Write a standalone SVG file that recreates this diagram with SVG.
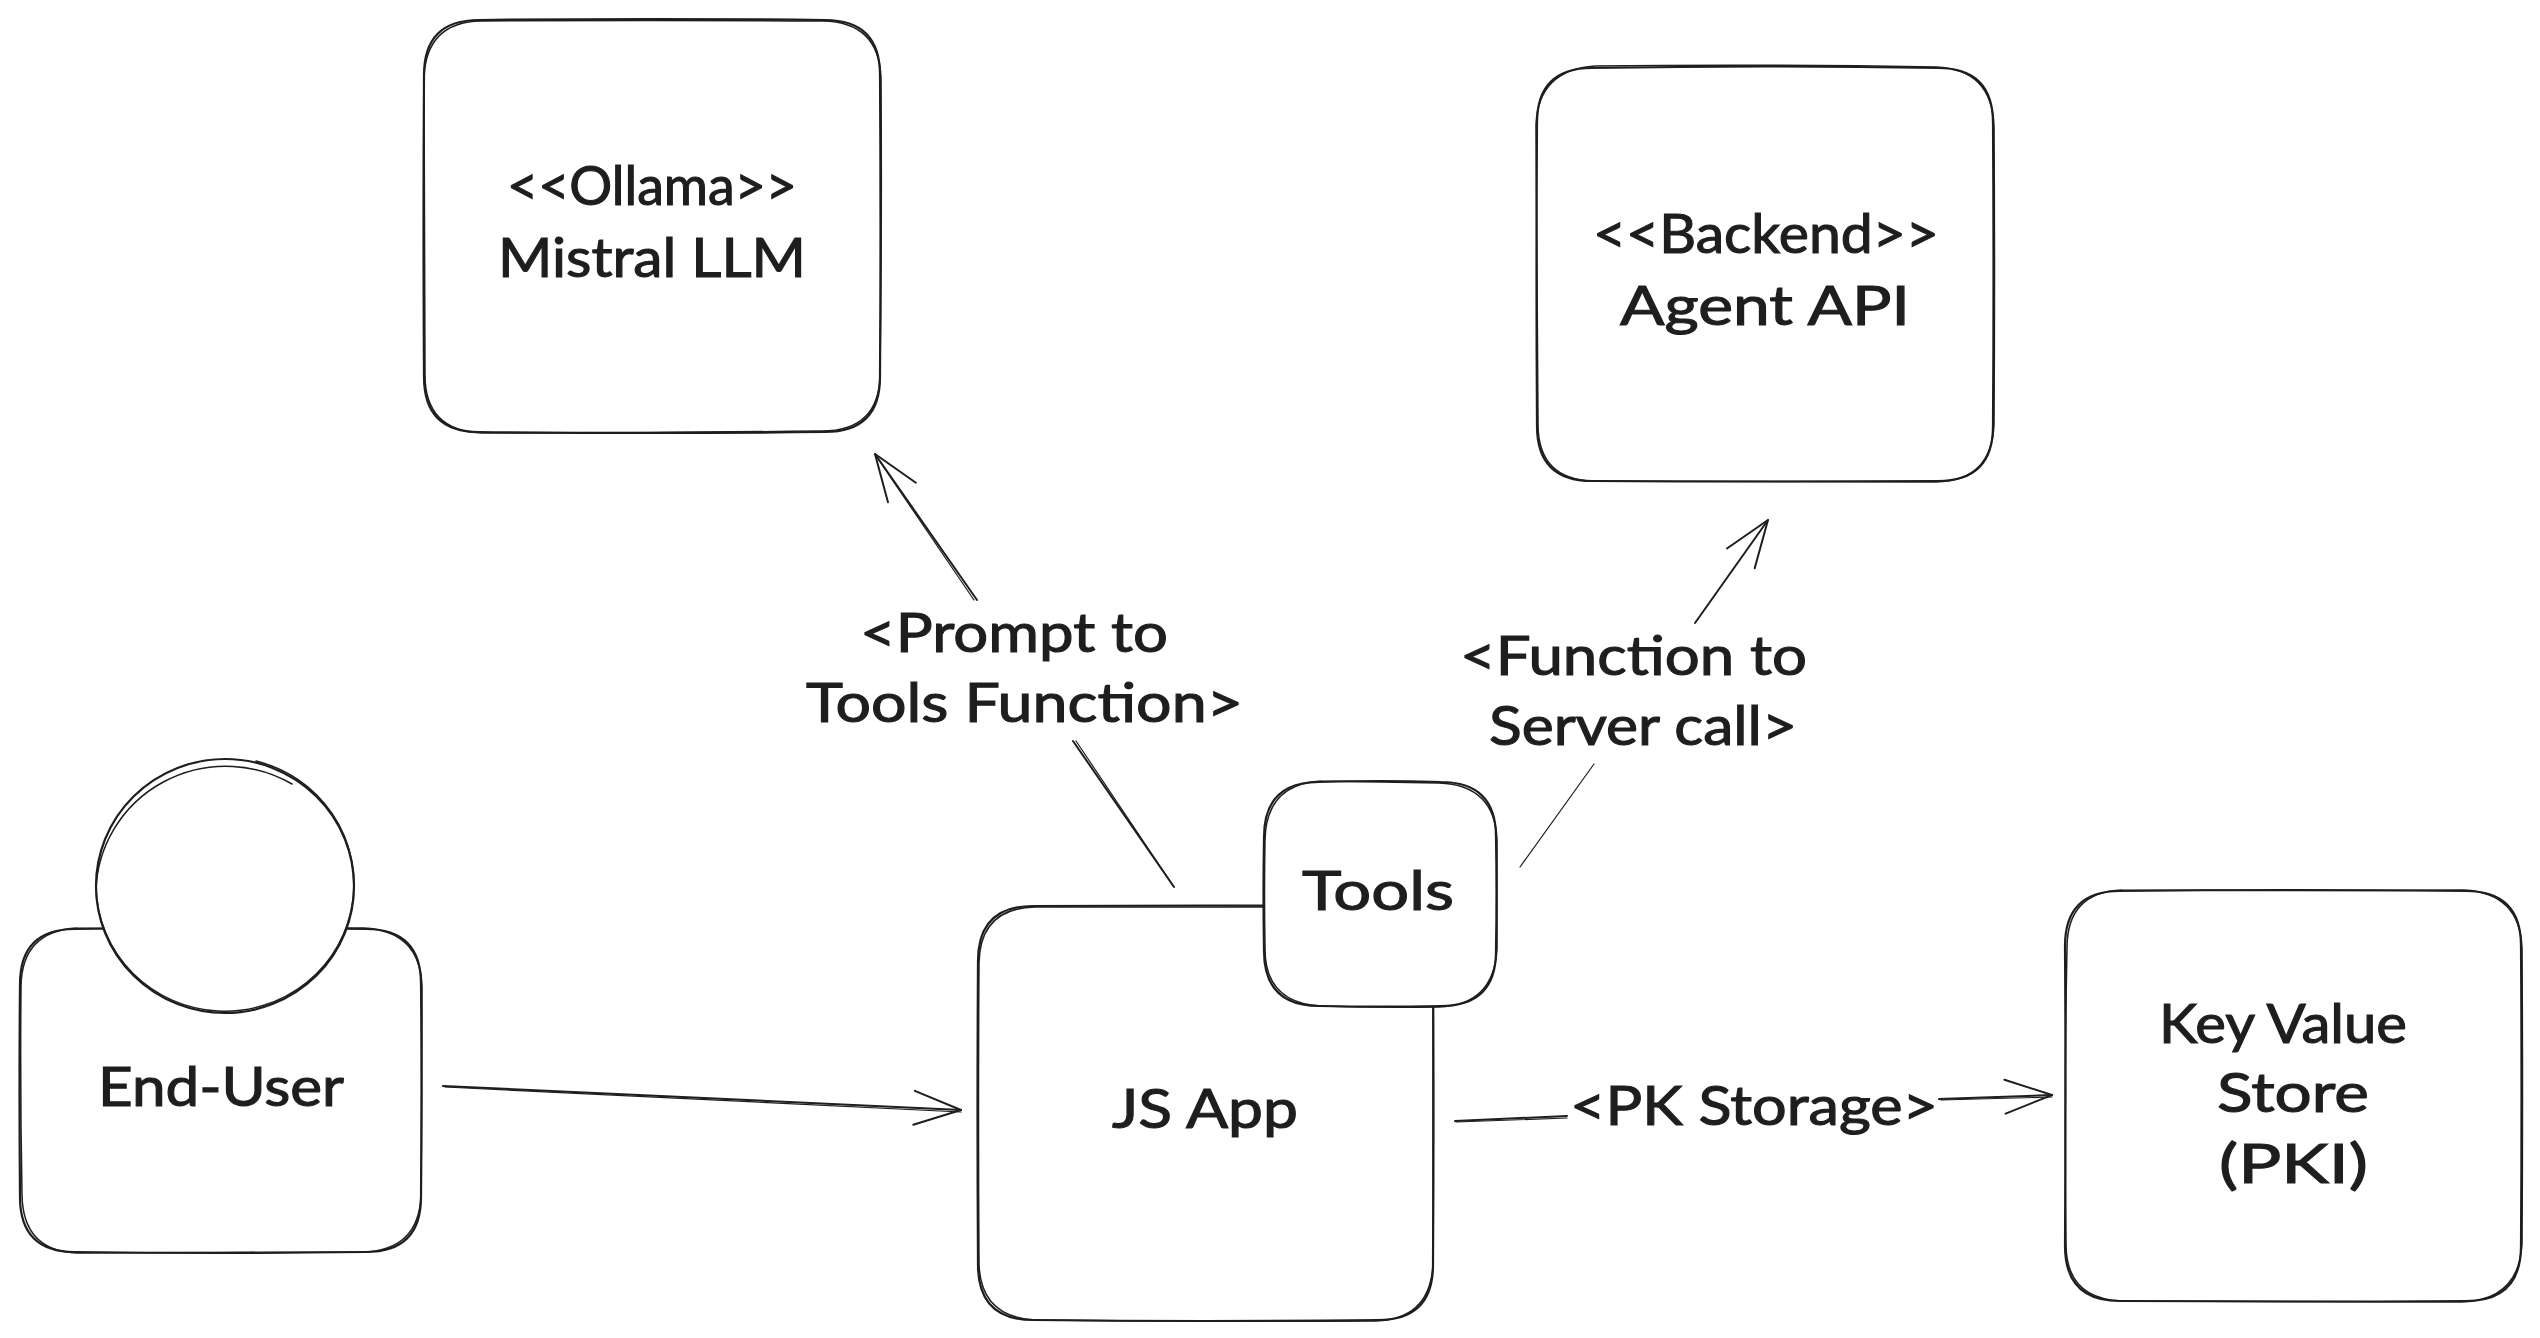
<svg xmlns="http://www.w3.org/2000/svg" width="2540" height="1338" viewBox="0 0 2540 1338">
<style>
.bg{fill:#ffffff}
.s1{fill:#ffffff;stroke:#1e1e1e;stroke-width:2.2;stroke-linecap:round;stroke-linejoin:round}
.s2{fill:none;stroke:#1e1e1e;stroke-width:1.5;stroke-linecap:round;stroke-linejoin:round}
.c1{fill:none;stroke:#1e1e1e;stroke-width:2;stroke-linecap:round}
.c2{fill:none;stroke:#1e1e1e;stroke-width:1.2;stroke-linecap:round}
.t{font-family:"Lato","Noto Sans",sans-serif;font-size:54px;fill:#1e1e1e;stroke:#1e1e1e;stroke-width:1.1px}
</style>
<defs>
<marker id="arrow" markerUnits="userSpaceOnUse" markerWidth="60" markerHeight="44" refX="50" refY="20" orient="auto" overflow="visible">
<path d="M3 3L50 20L3 37" fill="none" stroke="#1e1e1e" stroke-width="2" stroke-linecap="round" stroke-linejoin="round"/>
</marker>
</defs>
<rect class="bg" width="2540" height="1338"/>

<g id="node-ollama">
<path class="s1" d="M479 20Q652 18 825 20Q880 20 880 75Q881 226 880 377Q880 432 825 432Q652 434 479 432Q424 432 424 377Q423 226 424 75Q424 20 479 20Z"/>
<path class="s2" d="M481 21Q650 20 823 21Q879 22 881 78Q882 230 880 375Q879 431 822 431Q650 433 482 433Q425 431 425 375Q425 220 424 78Q426 22 481 21"/>
<text class="t" x="507" y="205" textLength="290" lengthAdjust="spacingAndGlyphs">&lt;&lt;Ollama&gt;&gt;</text>
<text class="t" x="498" y="277" textLength="308" lengthAdjust="spacingAndGlyphs">Mistral LLM</text>
</g>

<g id="node-backend">
<path class="s1" d="M1592 68Q1765 65 1938 68Q1993 68 1993 123Q1994 275 1993 426Q1993 481 1938 481Q1765 482 1592 481Q1537 481 1537 426Q1536 275 1537 123Q1537 68 1592 68Z"/>
<path class="s2" d="M1595 66Q1765 64 1936 67Q1992 69 1994 126Q1995 275 1994 424Q1992 481 1936 482Q1765 482 1594 481Q1538 480 1538 424Q1537 275 1536 125Q1538 70 1595 66"/>
<text class="t" x="1593" y="253" textLength="346" lengthAdjust="spacingAndGlyphs">&lt;&lt;Backend&gt;&gt;</text>
<text class="t" x="1620" y="325" textLength="290" lengthAdjust="spacingAndGlyphs">Agent API</text>
</g>

<g id="node-kv">
<path class="s1" d="M2120 891Q2293 889 2466 891Q2521 891 2521 946Q2522 1096 2521 1246Q2521 1301 2466 1301Q2293 1302 2120 1301Q2065 1301 2065 1246Q2066 1096 2065 946Q2065 891 2120 891Z"/>
<path class="s2" d="M2122 890Q2293 891 2464 890Q2520 893 2522 948Q2523 1096 2522 1244Q2519 1300 2462 1302Q2293 1302 2122 1301Q2066 1299 2066 1244Q2064 1096 2067 948Q2067 892 2122 890"/>
<text class="t" x="2159" y="1043" textLength="248" lengthAdjust="spacingAndGlyphs">Key Value</text>
<text class="t" x="2217" y="1112" textLength="152" lengthAdjust="spacingAndGlyphs">Store</text>
<text class="t" x="2219" y="1183" textLength="149" lengthAdjust="spacingAndGlyphs">(PKI)</text>
</g>

<g id="node-end-user">
<path class="s1" d="M75 929Q220 927 366 929Q421 929 421 984Q422 1090 421 1197Q421 1252 366 1252Q220 1254 75 1252Q20 1252 20 1197Q19 1090 20 984Q20 929 75 929Z"/>
<path class="s2" d="M77 928Q220 929 364 928Q420 931 422 986Q422 1090 421 1195Q419 1251 362 1252Q220 1253 77 1253Q23 1251 22 1195Q20 1090 21 986Q22 931 77 928"/>
<text class="t" x="98" y="1106" textLength="246" lengthAdjust="spacingAndGlyphs">End-User</text>
<ellipse class="s1" cx="225" cy="886" rx="129" ry="127"/>
<path class="s2" d="M256 761A129 127 0 1 1 96 889A130 128 0 0 1 292 784"/>
</g>

<g id="node-js-app">
<path class="s1" d="M1033 906Q1205 905 1378 906Q1433 906 1433 961Q1434 1113 1433 1265Q1433 1320 1378 1320Q1205 1322 1033 1320Q978 1320 978 1265Q977 1113 978 961Q978 906 1033 906Z"/>
<path class="s2" d="M1035 907Q1205 907 1376 907Q1432 908 1433 963Q1433 1113 1433 1263Q1431 1319 1376 1321Q1205 1322 1035 1320Q980 1317 979 1263Q978 1113 979 963Q980 908 1035 907"/>
<text class="t" x="1112" y="1128" textLength="186" lengthAdjust="spacingAndGlyphs">JS App</text>
</g>

<g id="node-tools">
<path class="s1" d="M1319 782Q1380 780 1441 782Q1496 782 1496 837Q1497 893 1496 951Q1496 1006 1441 1006Q1380 1007 1319 1006Q1264 1006 1264 951Q1263 893 1264 837Q1264 782 1319 782Z"/>
<path class="s2" d="M1321 781Q1380 782 1439 783Q1495 785 1497 840Q1497 893 1497 949Q1494 1005 1439 1007Q1380 1008 1321 1006Q1265 1003 1265 949Q1264 893 1265 840Q1266 784 1321 781"/>
<text class="t" x="1302" y="910" textLength="152" lengthAdjust="spacingAndGlyphs">Tools</text>
</g>

<g id="connectors">
<g id="conn-user-app">
<path class="c1" d="M443 1086L961 1110" marker-end="url(#arrow)"/>
<path class="c2" d="M445 1087L961 1112"/>
</g>
<g id="conn-app-ollama">
<path class="c1" d="M1174 887L1073 741"/>
<path class="c2" d="M1172 884L1076 741"/>
<path class="c1" d="M977 600L875 454" marker-end="url(#arrow)"/>
<path class="c2" d="M974 600L876 456"/>
<text class="t" x="860" y="652" textLength="308" lengthAdjust="spacingAndGlyphs">&lt;Prompt to</text>
<text class="t" x="806" y="722" textLength="437" lengthAdjust="spacingAndGlyphs">Tools Function&gt;</text>
</g>
<g id="conn-tools-backend">
<path class="c2" d="M1520 867L1594 764"/>
<path class="c1" d="M1695 623L1768 520" marker-end="url(#arrow)"/>
<text class="t" x="1460" y="675" textLength="347" lengthAdjust="spacingAndGlyphs">&lt;Function to</text>
<text class="t" x="1489" y="745" textLength="308" lengthAdjust="spacingAndGlyphs">Server call&gt;</text>
</g>
<g id="conn-app-kv">
<path class="c1" d="M1455 1121L1567 1116"/>
<path class="c2" d="M1456 1122L1567 1118"/>
<path class="c1" d="M1939 1099L2052 1095" marker-end="url(#arrow)"/>
<path class="c2" d="M1941 1100L2052 1097"/>
<text class="t" x="1570" y="1125" textLength="368" lengthAdjust="spacingAndGlyphs">&lt;PK Storage&gt;</text>
</g>
</g>
</svg>
